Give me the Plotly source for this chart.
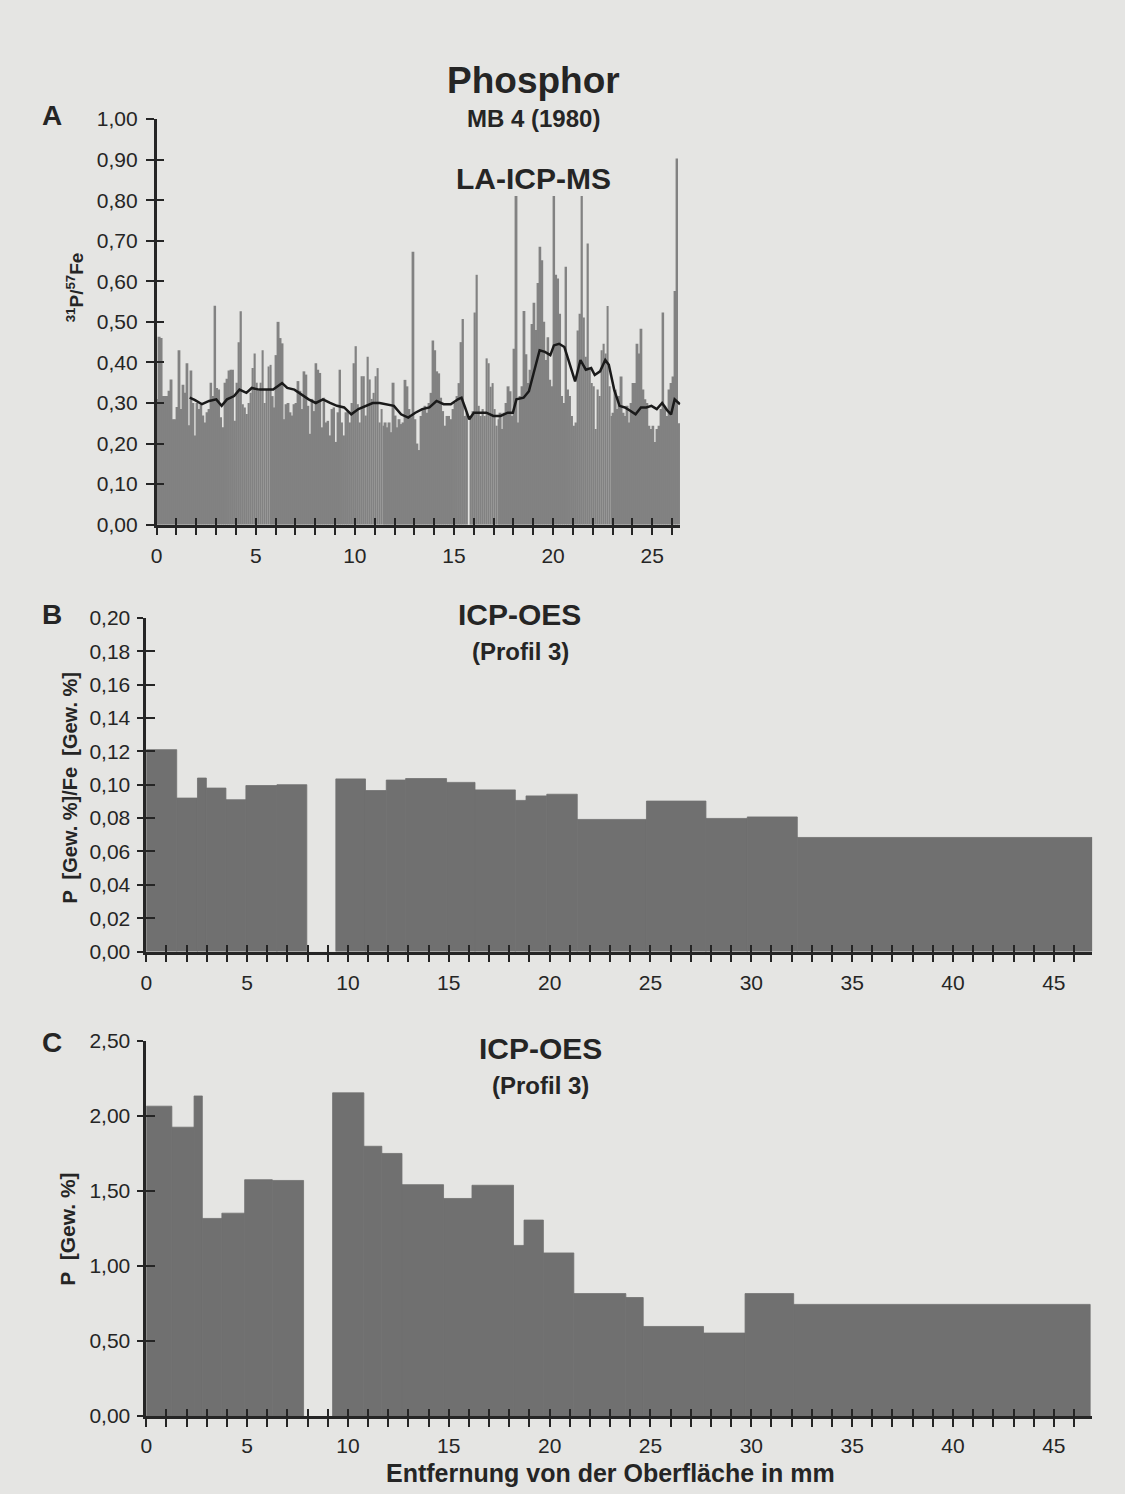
import numpy as np
import plotly.graph_objects as go

# ---------------- DATA ----------------
# Panel A: LA-ICP-MS 31P/57Fe profile, one value per 0.1 mm step
A_STEP_MM = 0.1
A_VALUES = [
    0.31, 0.463, 0.46, 0.317, 0.317, 0.317, 0.33, 0.358, 0.26, 0.26,
    0.29, 0.43, 0.285, 0.345, 0.325, 0.398, 0.245, 0.38, 0.30, 0.22,
    0.30, 0.285, 0.297, 0.269, 0.252, 0.277, 0.285, 0.35, 0.317, 0.54,
    0.337, 0.333, 0.265, 0.24, 0.35, 0.36, 0.38, 0.382, 0.382, 0.256,
    0.35, 0.45, 0.526, 0.297, 0.289, 0.273, 0.30, 0.325, 0.386, 0.422,
    0.35, 0.33, 0.35, 0.43, 0.30, 0.333, 0.39, 0.394, 0.317, 0.289,
    0.418, 0.50, 0.46, 0.447, 0.26, 0.297, 0.30, 0.277, 0.269, 0.297,
    0.30, 0.354, 0.33, 0.285, 0.378, 0.37, 0.293, 0.224, 0.31, 0.28,
    0.398, 0.382, 0.374, 0.24, 0.313, 0.252, 0.256, 0.22, 0.285, 0.289,
    0.204, 0.277, 0.382, 0.252, 0.22, 0.277, 0.28, 0.252, 0.30, 0.398,
    0.44, 0.297, 0.252, 0.366, 0.366, 0.269, 0.414, 0.358, 0.31, 0.325,
    0.366, 0.386, 0.252, 0.285, 0.244, 0.252, 0.24, 0.252, 0.228, 0.35,
    0.269, 0.24, 0.26, 0.248, 0.252, 0.357, 0.341, 0.285, 0.265, 0.673,
    0.26, 0.20, 0.184, 0.268, 0.285, 0.293, 0.276, 0.30, 0.325, 0.454,
    0.43, 0.378, 0.373, 0.313, 0.28, 0.244, 0.268, 0.268, 0.26, 0.285,
    0.30, 0.317, 0.349, 0.45, 0.507, 0.268, 0.276, 0.0, 0.268, 0.28,
    0.523, 0.616, 0.293, 0.268, 0.285, 0.268, 0.41, 0.398, 0.34, 0.349,
    0.285, 0.244, 0.26, 0.276, 0.236, 0.276, 0.30, 0.341, 0.329, 0.268,
    0.434, 0.81, 0.252, 0.317, 0.341, 0.527, 0.42, 0.349, 0.382, 0.495,
    0.547, 0.48, 0.596, 0.685, 0.652, 0.50, 0.406, 0.462, 0.357, 0.341,
    0.81, 0.616, 0.607, 0.52, 0.317, 0.30, 0.636, 0.333, 0.317, 0.268,
    0.244, 0.252, 0.479, 0.52, 0.81, 0.511, 0.414, 0.693, 0.382, 0.349,
    0.341, 0.236, 0.333, 0.317, 0.43, 0.446, 0.422, 0.539, 0.341, 0.268,
    0.276, 0.333, 0.285, 0.317, 0.365, 0.276, 0.268, 0.293, 0.252, 0.30,
    0.349, 0.349, 0.446, 0.422, 0.483, 0.333, 0.309, 0.30, 0.244, 0.236,
    0.244, 0.204, 0.236, 0.244, 0.285, 0.523, 0.293, 0.268, 0.333, 0.349,
    0.365, 0.576, 0.903, 0.25,
]

# Panel A: smoothed trend line
A_TREND_MM = [1.67, 1.94, 2.29, 2.65, 3.01, 3.28, 3.55, 3.91, 4.18, 4.53,
              4.80, 5.16, 5.52, 5.88, 6.33, 6.59, 6.95, 7.31, 7.67, 8.03,
              8.39, 8.75, 9.10, 9.46, 9.82, 10.18, 10.54, 10.9, 11.25, 11.61,
              11.97, 12.33, 12.69, 13.05, 13.4, 13.76, 14.12, 14.48, 14.84, 15.2,
              15.38, 15.56, 15.77, 16.0, 16.36, 16.63, 16.99, 17.35, 17.71, 17.97,
              18.15, 18.51, 18.78, 19.05, 19.32, 19.59, 19.86, 20.04, 20.3, 20.57,
              20.84, 21.11, 21.38, 21.65, 21.92, 22.1, 22.37, 22.63, 22.81, 23.08,
              23.35, 23.62, 23.89, 24.16, 24.43, 24.7, 24.96, 25.23, 25.5, 25.77,
              25.95, 26.13, 26.4]
A_TREND = [0.313, 0.307, 0.297, 0.305, 0.309, 0.293, 0.309, 0.317, 0.333, 0.325,
           0.337, 0.333, 0.333, 0.333, 0.349, 0.337, 0.333, 0.321, 0.309, 0.30,
           0.309, 0.30, 0.293, 0.289, 0.272, 0.285, 0.293, 0.30, 0.30, 0.297,
           0.293, 0.272, 0.264, 0.276, 0.285, 0.289, 0.305, 0.297, 0.297, 0.309,
           0.313, 0.289, 0.26, 0.276, 0.276, 0.276, 0.268, 0.268, 0.276, 0.276,
           0.309, 0.313, 0.329, 0.382, 0.43, 0.426, 0.418, 0.442, 0.446, 0.438,
           0.398, 0.353, 0.406, 0.382, 0.386, 0.369, 0.378, 0.406, 0.394, 0.333,
           0.293, 0.289, 0.281, 0.272, 0.289, 0.289, 0.293, 0.285, 0.30, 0.281,
           0.272, 0.309, 0.297]

# Panel B: ICP-OES (Profil 3), P/Fe, segments in mm
B_START = [0, 1.51, 2.54, 2.98, 3.95, 4.94, 6.48, 9.40, 10.87, 11.90, 12.86,
           14.89, 16.30, 18.30, 18.83, 19.86, 21.37, 24.80, 27.75, 29.80, 32.28]
B_END = [1.51, 2.54, 2.98, 3.95, 4.94, 6.48, 7.96, 10.87, 11.90, 12.86, 14.89,
         16.30, 18.30, 18.83, 19.86, 21.37, 24.80, 27.75, 29.80, 32.28, 46.90]
B_VALUES = [0.121, 0.092, 0.104, 0.098, 0.091, 0.0995, 0.100, 0.1035, 0.0965,
            0.1028, 0.1037, 0.1014, 0.0969, 0.0906, 0.0933, 0.0943, 0.0792,
            0.0902, 0.0798, 0.0807, 0.0684]

# Panel C: ICP-OES (Profil 3), P [Gew. %], segments in mm
C_START = [0, 1.27, 2.37, 2.78, 3.75, 4.88, 6.25, 9.24, 10.79, 11.68, 12.68,
           14.74, 16.15, 18.21, 18.73, 19.69, 21.20, 23.78, 24.64, 27.63, 29.69, 32.10]
C_END = [1.27, 2.37, 2.78, 3.75, 4.88, 6.25, 7.80, 10.79, 11.68, 12.68, 14.74,
         16.15, 18.21, 18.73, 19.69, 21.20, 23.78, 24.64, 27.63, 29.69, 32.10, 46.80]
C_VALUES = [2.065, 1.925, 2.133, 1.317, 1.352, 1.575, 1.570, 2.154, 1.798, 1.750,
            1.542, 1.450, 1.538, 1.137, 1.306, 1.087, 0.816, 0.790, 0.597, 0.553,
            0.816, 0.744]

# ---------------- STYLE ----------------
W, H = 1125, 1494
BG = "#e5e5e3"
BAR_A = "#828282"
BAR_BC = "#707070"
INK = "#252525"
FONT = "Liberation Sans, Arial, Helvetica, sans-serif"


def xd(p0, p1):
    return [p0 / W, p1 / W]


def yd(top, bottom):
    return [1 - bottom / H, 1 - top / H]


fig = go.Figure()

a_x = np.arange(len(A_VALUES)) * A_STEP_MM + A_STEP_MM / 2
fig.add_trace(go.Bar(x=a_x, y=A_VALUES, width=A_STEP_MM,
                     marker=dict(color=BAR_A, line=dict(width=0)),
                     xaxis="x", yaxis="y", showlegend=False, hoverinfo="skip"))
fig.add_trace(go.Scatter(x=A_TREND_MM, y=A_TREND, mode="lines",
                         line=dict(color="#1a1a1a", width=2.5),
                         xaxis="x", yaxis="y", showlegend=False, hoverinfo="skip"))

bs, be = np.array(B_START), np.array(B_END)
fig.add_trace(go.Bar(x=(bs + be) / 2, y=B_VALUES, width=be - bs,
                     marker=dict(color=BAR_BC, line=dict(width=0.8, color=BAR_BC)),
                     xaxis="x2", yaxis="y2", showlegend=False, hoverinfo="skip"))
cs, ce = np.array(C_START), np.array(C_END)
fig.add_trace(go.Bar(x=(cs + ce) / 2, y=C_VALUES, width=ce - cs,
                     marker=dict(color=BAR_BC, line=dict(width=0.8, color=BAR_BC)),
                     xaxis="x3", yaxis="y3", showlegend=False, hoverinfo="skip"))

# empty helper traces so the overlay axes (inner half of the crossing ticks) are drawn
for xa, ya in (("x4", "y4"), ("x5", "y5"), ("x6", "y6")):
    fig.add_trace(go.Scatter(x=[None], y=[None], mode="markers", xaxis=xa, yaxis=ya,
                             showlegend=False, hoverinfo="skip"))

tickfont = dict(family=FONT, size=21, color=INK)


def main_x(domain, rng, anchor, standoff):
    return dict(domain=domain, range=rng, anchor=anchor, tickmode="linear", tick0=0,
                dtick=5, ticks="outside", ticklen=8, tickwidth=2, tickcolor=INK,
                minor=dict(tickmode="linear", tick0=0, dtick=1, ticks="outside",
                           ticklen=8, tickwidth=2, tickcolor=INK),
                showline=True, linewidth=2.5, linecolor=INK, showgrid=False,
                zeroline=False, tickfont=tickfont, ticklabelstandoff=standoff,
                tickformat="d", fixedrange=True)


def over_x(over, rng, anchor):
    return dict(overlaying=over, range=rng, anchor=anchor, side="bottom",
                tickmode="linear", tick0=0, dtick=1, ticks="inside", ticklen=7,
                tickwidth=2, tickcolor=INK, showticklabels=False, showline=False,
                showgrid=False, zeroline=False, fixedrange=True)


def main_y(domain, rng, dtick, anchor, fmt, tlen, standoff):
    return dict(domain=domain, range=rng, anchor=anchor, tickmode="linear", tick0=0,
                dtick=dtick, ticks="outside", ticklen=tlen, tickwidth=2,
                tickcolor=INK, showline=True, linewidth=2.5, linecolor=INK,
                showgrid=False, zeroline=False, tickfont=tickfont,
                tickformat=fmt, ticklabelstandoff=standoff, fixedrange=True)


def over_y(over, rng, dtick, anchor, tlen):
    return dict(overlaying=over, range=rng, anchor=anchor, side="left",
                tickmode="linear", tick0=0, dtick=dtick, ticks="inside", ticklen=tlen,
                tickwidth=2, tickcolor=INK, showticklabels=False, showline=False,
                showgrid=False, zeroline=False, fixedrange=True)


A_XR = [0, 26.42]
B_XR = [0, 46.9]
C_XR = [0, 46.9]
A_YR = [0, 1.0]
B_YR = [0, 0.20]
C_YR = [0, 2.5]

layout = dict(
    width=W, height=H, margin=dict(l=0, r=0, t=0, b=0),
    paper_bgcolor=BG, plot_bgcolor="rgba(0,0,0,0)",
    separators=",.", hovermode=False, showlegend=False,
    font=dict(family=FONT, color=INK),
    xaxis=main_x(xd(151.4, 678), A_XR, "y", 2),
    yaxis=main_y(yd(108.7, 520.7), A_YR, 0.1, "x", ".2f", 8, 4),
    xaxis2=main_x(xd(141, 1092), B_XR, "y2", 2),
    yaxis2=main_y(yd(615.3, 954.3), B_YR, 0.02, "x2", ".2f", 6, 3),
    xaxis3=main_x(xd(141, 1092), C_XR, "y3", 1),
    yaxis3=main_y(yd(1045, 1426), C_YR, 0.5, "x3", ".2f", 6, 3),
    xaxis4=over_x("x", A_XR, "y4"),
    yaxis4=over_y("y", A_YR, 0.1, "x4", 7),
    xaxis5=over_x("x2", B_XR, "y5"),
    yaxis5=over_y("y2", B_YR, 0.02, "x5", 9),
    xaxis6=over_x("x3", C_XR, "y6"),
    yaxis6=over_y("y3", C_YR, 0.5, "x6", 9),
)
fig.update_layout(**layout)


def label(text, x, y, size, angle=0, pad=1):
    fig.add_annotation(text=text, x=x / W, y=1 - y / H, xref="paper", yref="paper",
                       xanchor="center", yanchor="middle", showarrow=False,
                       textangle=angle, borderpad=pad,
                       font=dict(family=FONT, size=size, color=INK))


label("<b>Phosphor</b>", 530, 70, 37)
label("<b>MB 4 (1980)</b>", 530, 108, 24)
label("<b>LA-ICP-MS</b>", 530, 169, 30)
label("<b>A</b>", 46, 105, 28)
label("<b><sup>31</sup>P/<sup>57</sup>Fe</b>", 69, 280, 19, -90)

label("<b>ICP-OES</b>", 516, 612, 30)
label("<b>(Profil 3)</b>", 517, 649, 24)
label("<b>B</b>", 46, 612, 28)
label("<b>P  [Gew. %]/Fe  [Gew. %]</b>", 64, 788, 20, -90)

label("<b>ICP-OES</b>", 537, 1053, 30)
label("<b>(Profil 3)</b>", 537, 1090, 24)
label("<b>C</b>", 46, 1047, 28)
label("<b>P  [Gew. %]</b>", 62, 1236, 21, -90)

label("<b>Entfernung von der Oberfläche in mm</b>", 608, 1484, 25, pad=0)

fig.write_html(
    "out.html",
    post_script="document.body.style.margin='0px';"
                "document.body.style.background='" + BG + "';",
)
